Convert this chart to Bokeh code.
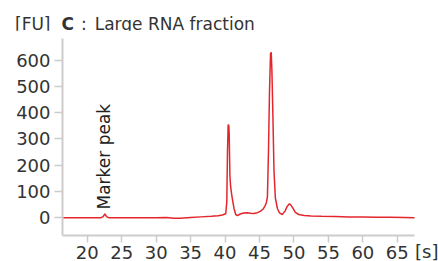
import math
from bokeh.plotting import figure
from bokeh.models import Label, FixedTicker, Range1d, Div
from bokeh.layouts import column, row
from bokeh.embed import file_html
from bokeh.resources import INLINE

# Electropherogram trace (time in s, fluorescence in FU)
time_s = [16.5, 18, 20, 22.0, 22.3, 22.55, 22.8, 23.1, 24, 26, 28, 30, 31.5, 32.5, 33.5, 35,
          36.5, 38, 39, 39.6, 39.9, 40.1, 40.25, 40.35, 40.45, 40.55, 40.6, 40.7, 40.8, 40.95,
          41.1, 41.3, 41.55, 41.8, 42.2, 42.7, 43.2, 43.7, 44.2, 44.7, 45.1, 45.5, 45.8, 46.0,
          46.15, 46.3, 46.45, 46.6, 46.7, 46.8, 46.95, 47.1, 47.3, 47.6, 47.9, 48.3, 48.7, 49.0,
          49.3, 49.5, 49.8, 50.2, 50.7, 51.5, 52.5, 54, 56, 58, 60, 62, 64, 66, 67.6]
fu = [0, 0, 0, 0, 4, 14, 4, 0, 0, 0, 0, 0, 1, -2, -2, 1,
      3, 5, 7, 10, 13, 15, 60, 250, 355, 350, 320, 160, 120, 90,
      65, 35, 12, 8, 14, 18, 19, 17, 16, 19, 24, 32, 45, 58,
      80, 250, 480, 625, 630, 560, 380, 180, 75, 35, 18, 12, 25, 42,
      52, 50, 38, 20, 12, 8, 6, 5, 4, 3, 3, 2, 2, 1, 0]

x_ticks = [20, 25, 30, 35, 40, 45, 50, 55, 60, 65]
y_ticks = [0, 100, 200, 300, 400, 500, 600]

FONT = "DejaVu Sans"
TXT = "#333333"
AX = "#cccccc"

title = Div(
    text='<span>[FU]</span><b style="margin-left:11px">C</b>'
         '<span style="margin-left:7px">:</span>'
         '<span style="margin-left:8px">Large RNA fraction</span>',
    width=438, height=30, margin=(0, 0, 0, 0),
    styles={"font-family": FONT, "font-size": "17px", "color": TXT,
            "white-space": "nowrap", "padding-left": "15px", "padding-top": "12px"})

p = figure(width=415, height=231, output_backend="svg", toolbar_location=None,
           x_range=Range1d(16.4, 67.5), y_range=Range1d(-68, 683),
           min_border_left=62, min_border_right=1, min_border_top=8, min_border_bottom=24,
           margin=(0, 0, 0, 0))
p.outline_line_color = None
p.grid.visible = False
p.background_fill_color = "white"

p.line(time_s, fu, line_color="#e4262c", line_width=1.5)

for ax, ticks in ((p.xaxis, x_ticks), (p.yaxis, y_ticks)):
    ax.ticker = FixedTicker(ticks=ticks)
    ax.axis_line_color = AX
    ax.axis_line_width = 2
    ax.major_tick_line_color = AX
    ax.major_tick_line_width = 1.5
    ax.major_tick_in = 0
    ax.minor_tick_line_color = None
    ax.major_label_text_font = FONT
    ax.major_label_text_font_size = "18px"
    ax.major_label_text_color = TXT
p.xaxis.major_tick_out = 7
p.xaxis.major_label_standoff = 3
p.yaxis.major_tick_out = 8
p.yaxis.major_label_standoff = 4

p.add_layout(Label(x=22.4, y=31, text="Marker peak", angle=math.pi / 2,
                   text_font=FONT, text_font_size="17px", text_color="#222222",
                   text_baseline="middle", text_align="left"))

unit = Div(text="[s]", width=23, height=231, margin=(0, 0, 0, 0),
           styles={"font-family": FONT, "font-size": "18px", "color": TXT,
                   "line-height": "18px", "white-space": "nowrap",
                   "padding-top": "213px"})

layout = column(title, row(p, unit, spacing=0), spacing=0)
open("out.html", "w").write(file_html(layout, INLINE))
